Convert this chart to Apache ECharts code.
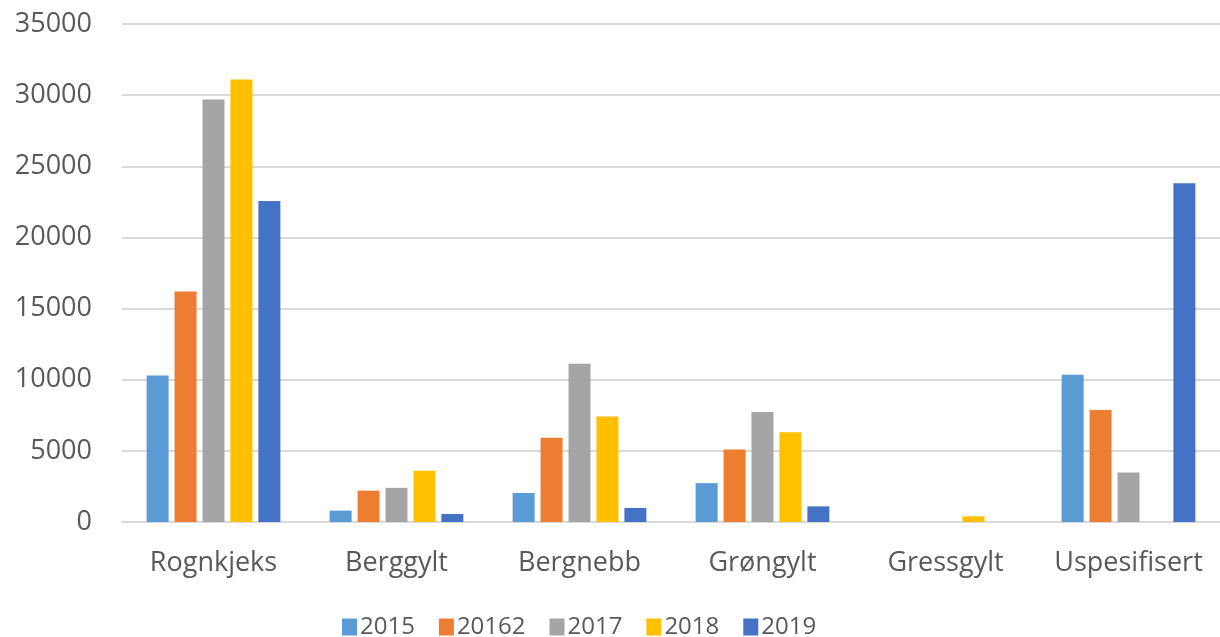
<!DOCTYPE html>
<html>
<head>
<meta charset="utf-8">
<script src="https://cdn.jsdelivr.net/npm/echarts@6/dist/echarts.min.js"></script>
<style>
html,body{margin:0;padding:0;background:#fff;}
#chart{width:1220px;height:637px;}
</style>
</head>
<body>
<div id="chart"></div>
<script>
var categories = ['Rognkjeks', 'Berggylt', 'Bergnebb', 'Grøngylt', 'Gressgylt', 'Uspesifisert'];
var seriesNames = ['2015', '20162', '2017', '2018', '2019'];
var v2015 = [10300, 800, 2040, 2730, 0, 10350];
var v20162 = [16200, 2200, 5920, 5100, 0, 7870];
var v2017 = [29700, 2400, 11130, 7730, 0, 3480];
var v2018 = [31100, 3600, 7420, 6300, 400, 0];
var v2019 = [22560, 560, 990, 1100, 0, 23800];
var yTicks = [0, 5000, 10000, 15000, 20000, 25000, 30000, 35000];

var colors = ['#5B9BD5', '#ED7D31', '#A5A5A5', '#FFC000', '#4472C4'];
var values = [v2015, v20162, v2017, v2018, v2019];
var font = '"Open Sans", "Noto Sans", sans-serif';

var chart = echarts.init(document.getElementById('chart'));
chart.setOption({
  animation: false,
  color: colors,
  grid: { left: 122, top: 24, width: 1102, height: 498, containLabel: false },
  legend: {
    data: seriesNames,
    top: 610,
    left: 337,
    itemWidth: 15,
    itemHeight: 17,
    itemGap: 24,
    icon: 'rect',
    textStyle: { color: '#595959', fontSize: 24, fontFamily: font, padding: [0, 0, 0, -2] }
  },
  xAxis: {
    type: 'category',
    data: categories,
    axisLine: { lineStyle: { color: '#D9D9D9', width: 2 } },
    axisTick: { show: false },
    axisLabel: { color: '#595959', fontSize: 27, fontFamily: font, margin: 28, interval: 0 }
  },
  yAxis: {
    type: 'value',
    min: yTicks[0],
    max: yTicks[yTicks.length - 1],
    interval: 5000,
    axisLine: { show: false },
    axisTick: { show: false },
    splitLine: { lineStyle: { color: '#D9D9D9', width: 2 } },
    axisLabel: { color: '#595959', fontSize: 27, fontFamily: font, margin: 30,
      formatter: function (v) { return String(v); } }
  },
  series: seriesNames.map(function (n, i) {
    return {
      name: n,
      type: 'bar',
      data: values[i],
      barWidth: 22,
      barGap: '27%',
      itemStyle: { color: colors[i], borderWidth: 0 }
    };
  })
});
</script>
</body>
</html>
